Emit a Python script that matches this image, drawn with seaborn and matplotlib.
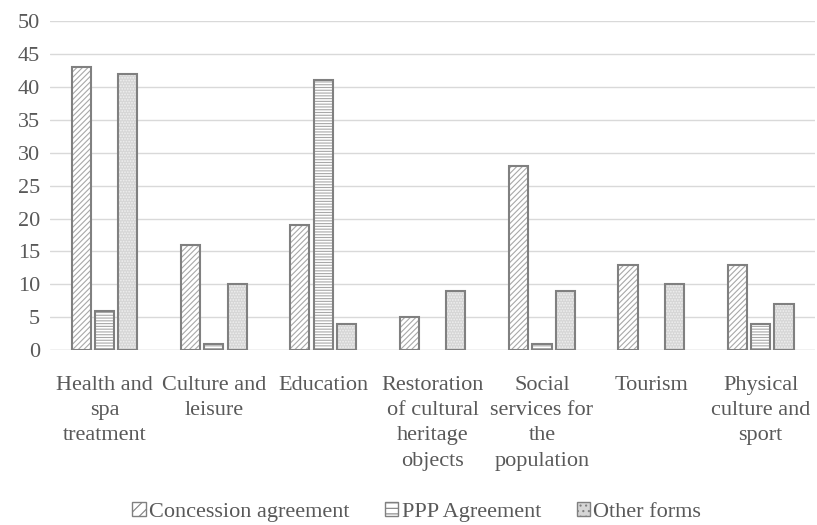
import matplotlib
matplotlib.use("Agg")
import matplotlib.pyplot as plt
from matplotlib.patches import Patch, Rectangle
import matplotlib.transforms as mtransforms
import seaborn as sns
import pandas as pd

categories = [
    "Health and\nspa\ntreatment",
    "Culture and\nleisure",
    "Education",
    "Restoration\nof cultural\nheritage\nobjects",
    "Social\nservices for\nthe\npopulation",
    "Tourism",
    "Physical\nculture and\nsport",
]
series_names = ["Concession agreement", "PPP Agreement", "Other forms"]
concession = [43, 16, 19, 5, 28, 13, 13]
ppp = [6, 1, 41, 0, 1, 0, 4]
other = [42, 10, 4, 9, 9, 10, 7]
y_ticks = [0, 5, 10, 15, 20, 25, 30, 35, 40, 45, 50]

sns.set_theme(style="white")
plt.rcParams["font.family"] = ["Liberation Serif", "DejaVu Serif"]
plt.rcParams["hatch.linewidth"] = 0.8

rows = []
for name, vals in zip(series_names, [concession, ppp, other]):
    for c, v in zip(categories, vals):
        rows.append({"category": c, "series": name, "value": v})
df = pd.DataFrame(rows)

fig = plt.figure(figsize=(8.17, 5.25), dpi=100)
ax = fig.add_axes([0.061, 0.333, 0.937, 0.627])

sns.barplot(data=df, x="category", y="value", hue="series", order=categories,
            hue_order=series_names, width=0.64, gap=0.18, ax=ax,
            legend=False, zorder=3)

outline = "#808080"
styles = [
    dict(face="white", hatch="//////", hatch_color="#a8a8a8"),
    dict(face="white", hatch="------", hatch_color="#a8a8a8"),
    dict(face="#d6d6d6", hatch="......", hatch_color="#f0f0f0"),
]
for cont, st in zip(ax.containers, styles):
    for p in list(cont.patches):
        if p.get_height() == 0:
            p.set_visible(False)
            continue
        # fill + hatch in a light tone, outline drawn on top in a darker grey
        p.set_facecolor(st["face"])
        p.set_hatch(st["hatch"])
        p.set_edgecolor(st["hatch_color"])
        p.set_linewidth(0)
        ax.add_patch(Rectangle(p.get_xy(), p.get_width(), p.get_height(),
                               fill=False, edgecolor=outline, linewidth=1.5,
                               zorder=4))

text_color = "#595959"
ax.set_ylim(0, 50)
ax.set_yticks(y_ticks)
ax.set_yticklabels([str(t) for t in y_ticks], fontsize=16, color=text_color)
ax.set_xlim(-0.5, len(categories) - 0.5)
ax.tick_params(axis="x", length=0, labelbottom=False)
ax.tick_params(axis="y", length=0, pad=7)
ax.set_xlabel("")
ax.set_ylabel("")

# category labels, centred under each group, with wider line spacing
label_tf = mtransforms.blended_transform_factory(ax.transData, ax.transAxes)
offset = mtransforms.ScaledTranslation(0, -18.5 / 72, fig.dpi_scale_trans)
for i, cat in enumerate(categories):
    ax.text(i, 0, cat, transform=label_tf + offset, ha="center", va="top",
            fontsize=16, color=text_color, linespacing=1.45, multialignment="center")

ax.yaxis.grid(True, color="#d9d9d9", linewidth=1.0, zorder=0)
ax.set_axisbelow(True)
for s in ax.spines.values():
    s.set_visible(False)
ax.axhline(0, color="#d9d9d9", linewidth=1.0, zorder=1)

handles = [Patch(facecolor=st["face"], hatch=st["hatch"][:3], edgecolor=outline,
                 linewidth=1.0) for st in styles]
fig.legend(handles, series_names, loc="center", bbox_to_anchor=(0.51, 0.025),
           ncol=3, frameon=False, fontsize=16, handlelength=0.6, handleheight=0.6,
           handletextpad=0.15, columnspacing=1.6, labelcolor=text_color)

fig.savefig("out.png", dpi=100, facecolor="white")
